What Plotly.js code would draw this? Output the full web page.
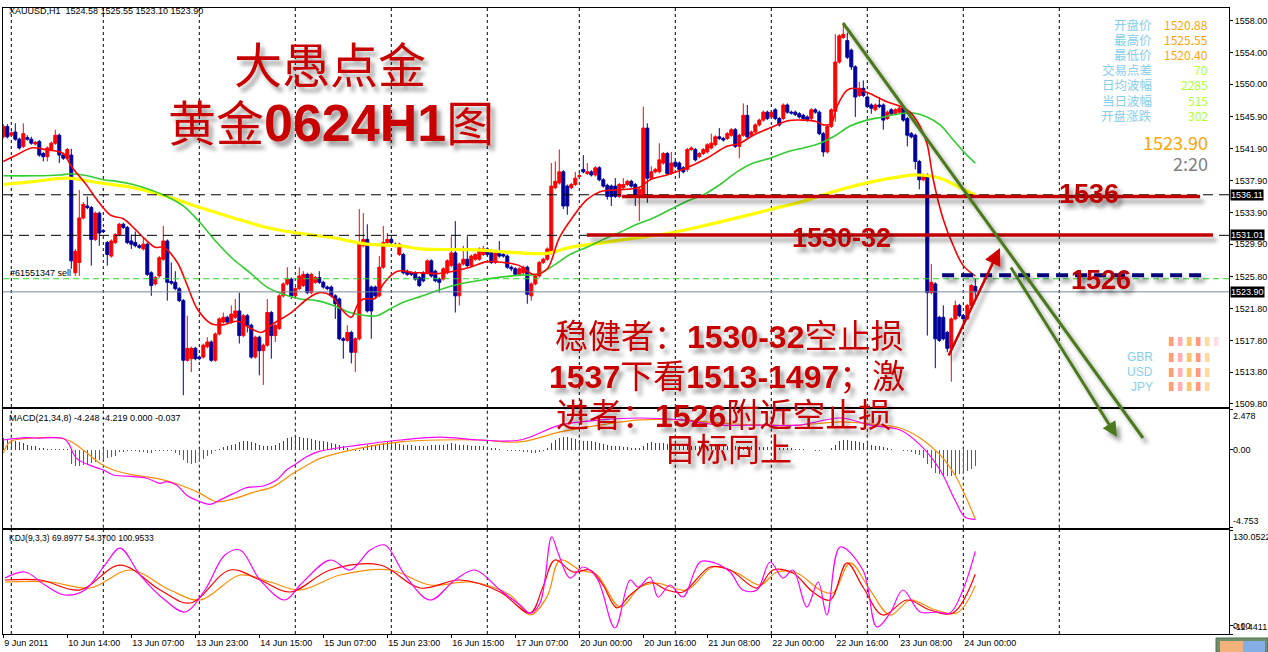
<!DOCTYPE html>
<html><head><meta charset="utf-8">
<script src="https://cdn.plot.ly/plotly-3.0.1.min.js"></script>
<style>html,body{margin:0;padding:0;background:#fff;}#chart{width:1268px;height:652px;}</style>
</head><body>
<svg width="0" height="0" style="position:absolute"><defs>
<filter id="sh" filterUnits="userSpaceOnUse" x="-3000" y="-3000" width="8000" height="8000">
<feGaussianBlur in="SourceAlpha" stdDeviation="2.2"/><feOffset dx="4" dy="5" result="b"/>
<feFlood flood-color="#000" flood-opacity="0.38"/><feComposite in2="b" operator="in"/>
<feMerge><feMergeNode/><feMergeNode in="SourceGraphic"/></feMerge></filter></defs></svg>
<div id="chart"></div>
<script>
// ---------------- DATA ----------------
const open = [
1543.4,1544.7,1543.6,1544.0,1543.1,1542.2,1543.3,1543.1,1542.5,1542.8,
1541.3,1540.9,1541.8,1542.6,1543.6,1541.1,1540.7,1541.1,1526.3,1527.6,
1533.2,1534.7,1534.5,1530.5,1533.8,1531.6,1530.1,1528.4,1530.1,1531.1,
1532.4,1532.0,1530.3,1530.1,1529.7,1529.3,1529.9,1526.3,1524.9,1525.9,
1528.0,1530.3,1525.2,1525.1,1524.3,1522.8,1515.3,1515.5,1516.8,1515.7,
1515.7,1517.0,1517.6,1515.3,1518.6,1520.1,1520.7,1520.1,1520.7,1521.5,
1518.4,1520.9,1519.7,1515.7,1518.2,1516.5,1517.2,1521.3,1518.4,1519.3,
1523.4,1524.9,1525.5,1523.4,1524.3,1524.7,1526.1,1523.8,1525.1,1525.7,
1525.1,1524.5,1524.5,1523.4,1523.0,1518.0,1517.8,1518.8,1516.3,1518.0,
1529.7,1530.5,1524.5,1524.5,1523.4,1527.0,1530.1,1530.5,1529.9,1528.6,
1528.6,1526.5,1526.3,1526.3,1525.7,1526.3,1526.3,1527.8,1526.5,1525.5,
1525.5,1526.3,1527.2,1528.8,1523.4,1527.4,1528.0,1527.2,1528.0,1528.0,
1528.6,1529.3,1529.0,1527.6,1528.8,1528.6,1528.4,1527.0,1526.8,1526.1,
1526.3,1527.0,1523.4,1524.9,1525.9,1527.6,1528.0,1528.8,1537.0,1537.6,
1539.0,1537.2,1537.0,1537.4,1538.4,1539.3,1538.8,1539.0,1538.6,1539.5,
1538.0,1537.3,1537.2,1537.2,1535.9,1537.0,1537.4,1537.8,1537.4,1536.0,
1536.0,1544.5,1538.2,1539.0,1539.0,1540.1,1541.3,1538.8,1540.2,1540.1,
1539.5,1539.3,1541.8,1541.8,1540.9,1541.3,1541.5,1542.0,1542.4,1543.4,
1543.2,1543.2,1543.6,1544.3,1542.2,1543.6,1546.1,1543.6,1544.0,1544.9,
1545.5,1546.5,1545.9,1546.8,1545.7,1545.7,1547.4,1546.5,1546.5,1546.3,
1546.1,1545.9,1545.7,1546.8,1546.5,1543.8,1541.5,1544.7,1546.6,1552.8,
1555.9,1555.5,1554.3,1552.2,1548.6,1549.5,1548.4,1547.4,1546.8,1547.4,
1547.4,1545.7,1546.8,1546.3,1546.5,1547.0,1545.7,1543.8,1543.6,1540.3,
1538.0,1538.6,1523.8,1524.9,1520.7,1520.7,1518.8,1516.8,1520.5,1522.2,
1520.9,1520.5,1522.2,1524.58];
const high = [
1545.0,1545.0,1544.1,1545.1,1543.3,1545.1,1543.6,1543.4,1542.9,1543.0,
1541.5,1542.2,1542.8,1544.3,1543.8,1541.3,1542.0,1541.9,1529.3,1536.7,
1535.2,1535.9,1534.7,1534.0,1534.0,1531.8,1530.3,1530.5,1531.3,1532.6,
1532.6,1532.2,1531.1,1531.5,1529.9,1530.7,1530.1,1526.5,1525.9,1528.4,
1532.2,1530.5,1527.6,1526.5,1524.5,1523.0,1520.9,1517.0,1517.0,1515.9,
1517.4,1518.2,1517.8,1518.8,1520.7,1521.3,1520.9,1522.2,1523.0,1523.8,
1521.1,1521.1,1519.9,1518.4,1518.4,1517.4,1523.0,1521.5,1519.9,1523.6,
1525.1,1527.0,1525.7,1524.5,1527.0,1526.5,1526.3,1526.3,1525.9,1526.5,
1525.3,1524.7,1524.7,1523.6,1523.2,1518.2,1519.7,1519.0,1518.2,1534.3,
1533.8,1532.4,1524.7,1524.7,1528.4,1532.2,1531.3,1530.7,1530.1,1530.1,
1528.8,1526.7,1526.5,1526.5,1525.9,1526.5,1528.0,1528.0,1526.7,1525.7,
1527.0,1528.0,1530.9,1532.8,1527.6,1529.7,1530.9,1528.6,1528.8,1529.5,
1529.7,1529.5,1529.3,1529.0,1530.3,1528.8,1528.6,1527.2,1527.0,1527.0,
1527.2,1527.2,1525.1,1526.1,1527.8,1528.2,1529.5,1540.1,1540.3,1541.8,
1539.2,1537.4,1537.6,1539.0,1538.9,1541.1,1540.1,1539.2,1539.7,1539.7,
1538.2,1537.5,1537.4,1538.2,1537.6,1538.2,1538.0,1538.0,1537.6,1537.0,
1547.2,1545.1,1539.7,1539.5,1542.6,1541.5,1541.5,1541.5,1540.4,1540.3,
1539.7,1542.0,1542.2,1542.0,1541.5,1542.0,1542.6,1543.8,1543.6,1544.5,
1543.4,1544.0,1544.5,1544.5,1543.8,1547.6,1547.4,1544.2,1545.1,1545.7,
1546.7,1546.7,1546.7,1547.0,1545.9,1547.6,1547.6,1546.7,1546.7,1546.5,
1546.3,1546.1,1547.0,1547.0,1546.7,1544.0,1544.9,1547.0,1556.3,1556.3,
1557.6,1556.5,1554.5,1552.4,1550.3,1550.5,1548.6,1547.6,1547.6,1548.4,
1547.6,1546.7,1547.0,1547.0,1547.2,1547.2,1545.9,1544.0,1543.8,1540.5,
1538.8,1538.8,1527.4,1525.1,1520.9,1522.2,1519.0,1520.7,1522.8,1522.4,
1521.1,1522.4,1524.9,1525.55];
const low = [
1543.2,1543.2,1543.4,1542.9,1541.8,1542.0,1542.9,1542.4,1542.3,1540.9,
1540.3,1540.3,1541.6,1542.4,1540.1,1540.5,1540.5,1526.8,1525.9,1525.9,
1533.0,1534.3,1527.2,1530.3,1529.7,1531.3,1527.2,1528.2,1529.9,1530.9,
1531.8,1529.9,1529.3,1529.5,1529.3,1529.1,1525.9,1523.4,1524.7,1525.7,
1527.8,1522.8,1524.8,1524.1,1522.6,1510.9,1515.1,1513.8,1515.3,1515.3,
1515.5,1516.8,1515.1,1515.1,1518.4,1519.9,1519.9,1519.9,1520.5,1517.4,
1518.2,1518.8,1515.5,1515.5,1513.4,1512.2,1517.0,1515.5,1517.6,1519.1,
1523.2,1524.7,1523.0,1523.2,1524.1,1524.5,1523.6,1523.6,1524.9,1524.9,
1524.3,1524.1,1523.2,1520.5,1517.8,1515.5,1517.6,1514.9,1513.8,1517.8,
1529.5,1521.3,1518.0,1523.2,1523.2,1526.8,1529.9,1529.9,1529.5,1528.4,
1526.1,1525.9,1525.9,1525.3,1524.5,1525.1,1526.1,1525.7,1525.1,1523.8,
1525.3,1526.1,1527.0,1521.3,1522.2,1527.2,1527.0,1527.0,1527.8,1527.8,
1528.4,1528.4,1527.4,1527.4,1528.2,1528.2,1526.8,1526.5,1525.9,1525.9,
1526.1,1522.4,1522.8,1524.7,1525.7,1527.4,1527.8,1528.6,1536.8,1537.4,
1534.3,1533.6,1536.8,1537.2,1538.2,1538.8,1538.6,1538.4,1538.4,1537.8,
1537.0,1535.5,1534.7,1535.7,1535.7,1536.8,1537.2,1537.0,1534.7,1532.8,
1535.8,1535.1,1538.0,1538.8,1538.8,1539.9,1538.6,1538.6,1539.5,1538.2,
1538.8,1539.0,1541.6,1540.3,1540.7,1541.1,1541.3,1541.8,1542.2,1543.0,
1542.8,1543.0,1543.4,1542.0,1540.7,1543.4,1543.2,1543.4,1543.8,1544.7,
1545.3,1545.5,1545.7,1545.5,1544.7,1545.5,1546.3,1546.2,1546.0,1545.7,
1545.5,1545.3,1545.5,1546.3,1543.6,1540.9,1541.3,1544.5,1545.3,1552.6,
1555.7,1553.2,1551.8,1545.9,1548.4,1548.4,1547.0,1546.3,1546.6,1547.0,
1544.3,1545.5,1546.1,1546.1,1546.3,1545.3,1542.2,1543.2,1539.3,1536.8,
1537.8,1518.4,1523.6,1514.3,1517.6,1517.8,1516.3,1512.6,1520.3,1520.7,
1520.4,1520.4,1522.0,1523.10];
const close = [
1544.7,1543.4,1543.9,1543.1,1542.0,1543.8,1543.1,1542.6,1542.7,1541.1,
1540.9,1542.0,1542.6,1543.6,1541.1,1540.7,1541.8,1527.8,1529.0,1533.2,
1534.9,1534.5,1530.5,1533.8,1531.3,1531.5,1528.6,1530.3,1531.1,1532.4,
1532.0,1530.1,1529.9,1529.7,1529.5,1529.9,1526.1,1524.7,1525.7,1528.2,
1530.3,1525.1,1525.0,1524.3,1522.8,1515.3,1516.8,1516.8,1515.5,1515.5,
1517.2,1517.6,1515.3,1518.6,1520.5,1520.7,1520.1,1521.1,1521.5,1518.4,
1520.9,1519.7,1515.7,1518.2,1516.5,1517.2,1521.3,1518.4,1519.7,1523.4,
1524.9,1525.5,1523.4,1524.3,1525.9,1526.1,1523.8,1526.1,1525.7,1525.1,
1524.5,1524.3,1523.4,1522.4,1518.0,1517.8,1518.8,1516.3,1518.0,1530.1,
1530.5,1521.5,1521.5,1523.4,1527.0,1530.1,1530.5,1530.1,1529.7,1529.9,
1526.3,1526.1,1526.1,1525.5,1524.7,1525.3,1527.8,1525.9,1525.3,1525.1,
1526.8,1527.8,1528.8,1523.4,1527.4,1528.0,1527.2,1528.4,1528.6,1529.3,
1529.3,1528.6,1527.6,1528.8,1528.4,1528.4,1527.0,1526.8,1526.1,1526.8,
1527.0,1523.6,1524.9,1525.9,1527.6,1528.0,1529.3,1537.2,1537.8,1539.0,
1534.7,1534.7,1537.4,1538.2,1538.5,1539.0,1539.0,1538.6,1539.5,1538.0,
1537.2,1535.9,1535.9,1535.9,1537.4,1537.4,1537.8,1537.2,1536.1,1536.8,
1544.5,1538.2,1539.0,1539.3,1540.5,1541.3,1538.8,1540.1,1539.7,1539.3,
1539.0,1541.8,1542.0,1540.5,1541.3,1541.8,1542.4,1542.6,1543.4,1543.2,
1543.0,1543.8,1544.3,1542.2,1543.6,1546.1,1543.4,1544.0,1544.9,1545.5,
1546.5,1545.7,1546.5,1545.7,1544.9,1547.4,1546.5,1546.4,1546.2,1545.9,
1545.7,1545.5,1546.8,1546.5,1543.8,1541.5,1544.7,1546.8,1552.8,1556.1,
1556.3,1553.4,1552.2,1548.4,1549.5,1548.6,1547.2,1547.0,1547.4,1547.2,
1545.5,1546.5,1546.3,1546.8,1547.0,1545.5,1543.6,1543.4,1540.3,1538.0,
1538.6,1523.8,1525.1,1518.0,1517.8,1518.0,1516.8,1520.5,1522.2,1520.9,
1520.5,1522.2,1524.7,1523.90];

// moving averages (bar index, price)
const maRedX = [0,4,7,11,15,17,21,24,27,30,33,35.5,38,40,43.5,46,48.5,52,55,58.5,62,64.5,67.5,72,76,79,82,84.5,87,88.5,90,93,95,98.5,102.5,104,108,112.5,116.7,121,125,129,132.5,135.9,139,142.5,145.9,149.2,152.5,155.9,159.2,161.7,165.9,170.9,175.9,180.9,184.2,187.5,192.5,195.9,200,203.4,205,207,208.4,210.9,212.5,215.9,220.9,224.2,226.7,229.2,230.9,232.5,235,237.5,240,243];
const maRedY = [1540.3,1541.3,1542.0,1541.75,1541.3,1539.7,1537.2,1535.1,1533.5,1533.1,1531.75,1530.5,1529.5,1529.5,1527.6,1524.7,1521.75,1519.9,1519.75,1520.2,1519.25,1518.8,1519.9,1521.3,1523,1523.8,1523.4,1521.75,1520.7,1522.2,1523,1523.1,1524.9,1526.5,1526.3,1526.3,1526.2,1526.5,1527,1527.7,1527.6,1527.2,1526.1,1526.75,1530.7,1533.4,1535.5,1536.5,1536.7,1536.8,1537.1,1538,1538.6,1539.5,1540.7,1542.2,1542.6,1543.6,1544.7,1545.4,1545.5,1545.3,1544.9,1545.1,1547.2,1549.25,1549.5,1549.0,1547.8,1547.25,1546.5,1544.7,1542.6,1538,1533,1529.7,1527.2,1525.9];
const maGreenX = [0,8,14,17,21,25,28.4,32.5,36.7,40.9,45,49.2,53.4,57.5,61.7,65.9,70,74.2,78.4,82.5,86.7,90.9,93.4,96.7,100,104.2,112.5,120.9,129.2,133.4,137.5,141.7,145.9,150,154.2,158.4,162.5,166.7,170.9,175,179.2,183.4,187.5,191.7,195.9,200,204.2,207.5,211.7,215.9,220,224.2,227.5,230.9,234.2,237.5,240.9,243];
const maGreenY = [1538.5,1538.5,1538.6,1538.75,1538.5,1538,1537.8,1537.4,1536.75,1535.9,1534.7,1532.6,1530.1,1528,1526.3,1524.5,1523.6,1523,1522.8,1522.2,1521.3,1520.9,1520.9,1521.75,1522.6,1523.3,1524.7,1525.5,1526,1526.1,1527.2,1528.6,1529.5,1530.5,1531.4,1532.4,1533.2,1534.25,1535.3,1536.1,1537.4,1539.0,1540.1,1540.7,1541.5,1542,1542.6,1543.4,1544.75,1545.5,1545.9,1546.3,1546.4,1545.9,1544.9,1543,1541.1,1540.1];
const maYellowX = [0,8,15.9,24.2,32.5,40.9,49.2,57.5,65.9,74.2,82.5,90.9,99.2,104.2,116.7,129.2,135.9,141.7,150,158.4,166.7,175,183.4,191.7,200,207.5,215.9,224.2,228.4,234.2,239.2,243];
const maYellowY = [1537.4,1537.8,1538.2,1537.6,1537,1535.9,1534.5,1533.2,1532,1531.25,1530.7,1529.9,1529.7,1529.3,1529.2,1528.8,1528.75,1529.5,1530.1,1530.7,1531.3,1532.2,1533.2,1534.25,1535.3,1536.5,1537.6,1538.4,1538.6,1538.2,1537,1536.1];

// MACD(21,34,8)
const macdHist = [
0.7,0.65,0.6,0.55,0.45,0.4,0.3,0.25,0.2,0.12,0.08,
0.03,0.03,0.02,0.02,0.02,0.02,
-0.9,-1.0,-1.0,-0.95,-0.9,-0.8,-0.75,-0.65,-0.6,-0.5,-0.45,-0.4,
-0.15,-0.12,-0.1,-0.1,-0.1,-0.12,-0.15,-0.2,-0.2,
-0.1,-0.1,-0.1,-0.05,-0.1,-0.2,-0.3,
-0.6,-0.8,-0.85,-0.8,-0.7,-0.55,-0.4,-0.25,-0.1,
0.05,0.15,0.25,0.3,0.35,0.45,0.5,0.5,0.45,0.4,0.3,0.25,0.2,0.25,0.3,0.4,0.55,0.7,0.8,0.8,0.75,0.7,0.7,0.65,0.6,0.55,
0.5,0.45,0.4,0.35,0.3,0.2,0.1,0.0,-0.1,-0.1,0.1,0.3,0.3,0.3,0.35,0.4,0.45,0.45,0.4,0.35,0.3,
0.3,0.3,0.25,0.2,0.2,0.25,0.3,0.3,0.3,0.3,0.35,0.4,0.35,0.3,0.3,0.3,0.25,0.25,0.2,0.2,0.15,0.1,0.1,0.05,0.0,-0.05,-0.05,-0.1,-0.1,-0.15,
-0.15,-0.2,-0.2,-0.15,-0.1,0.1,0.4,0.6,0.7,0.75,0.75,0.7,0.65,0.6,0.55,0.5,0.5,0.45,0.4,0.35,0.3,0.25,0.2,0.2,0.15,0.15,0.1,0.1,0.1,0.2,
0.4,0.45,0.4,0.4,0.4,0.35,0.3,0.3,0.25,0.25,0.2,0.2,0.2,0.2,0.2,0.2,0.2,0.25,0.25,0.25,0.2,0.2,0.2,0.2,0.15,0.2,0.2,0.2,0.15,0.15,
0.15,0.15,0.1,0.1,0.1,0.1,0.1,0.05,0.05,0.05,0.0,0.0,-0.05,-0.05,0.0,0.0,0.1,0.3,0.5,0.6,0.6,0.55,0.5,0.45,0.4,0.35,0.3,0.25,0.2,0.15,
0.1,0.05,0.0,0.0,-0.05,-0.1,-0.15,-0.25,-0.35,-0.5,-0.9,-1.1,-1.4,-1.5,-1.6,-1.6,-1.6,-1.55,-1.5,-1.4,-1.3,-1.15,-1.0];
const macdMainX = [0,5.8,8.3,15,16.3,18.3,22.5,25,27.5,32.5,35.8,39.2,40.8,43.3,45.8,49.2,51.7,54.2,57.6,60.8,65,68.3,70.8,73.3,75.8,78.8,89.2,99.2,109.2,119.2,129.2,139.2,149.2,159.2,169.2,179.2,189.2,199.2,209.2,216.7,224.2,229.2,234.2,237.9,240.4,243];
const macdMainY = [0.59,0.73,0.71,0.68,0.39,-0.53,-1.03,-1.24,-1.54,-1.64,-1.74,-2.05,-1.95,-2.15,-2.76,-3.17,-3.33,-3.06,-2.66,-2.31,-2.21,-1.85,-1.24,-0.84,-0.43,-0.12,0.29,0.59,0.77,0.59,0.59,1.5,1.81,1.93,1.81,1.5,1.5,1.5,1.93,1.5,1.2,0.29,-1.24,-3.06,-4.1,-4.248];
const macdSigX = [0,1.7,7.5,14.2,16.7,20,24.2,27.5,32.5,39.2,44.2,49.2,53.3,57.5,62.5,67.5,72.5,76.7,79.2,89.2,99.2,109.2,119.2,129.2,139.2,149.2,159.2,169.2,179.2,189.2,199.2,209.2,216.7,224.2,229.2,234.2,237.9,240.4,243];
const macdSigY = [-0.22,0.49,0.71,0.71,0.53,-0.02,-0.84,-1.24,-1.54,-1.79,-2.15,-2.66,-3.17,-3.0,-2.6,-2.25,-1.44,-0.84,-0.53,0.1,0.47,0.59,0.59,0.47,1.08,1.5,1.81,1.81,1.63,1.5,1.5,1.69,1.57,1.32,0.71,-0.32,-1.54,-2.76,-4.219];

// KDJ(9,3,3)
const kdjJX = [0.4,5.4,10.4,15.4,20.4,25.4,29.2,34.2,40.4,45.4,50.4,55.4,59.2,64.2,70.4,74.2,81.7,86.7,91.7,95.4,100.4,106.7,112.9,117.9,124.2,129.2,131.7,134.2,137.1,138.7,141.7,144.9,148.4,152.9,156.7,158.7,161.7,163.7,166.7,169.9,174.2,177.9,181.7,184.9,188.4,191.7,194.9,197.4,200.9,203.7,205.9,209.2,214.9,218.4,221.7,224.9,229.2,233.4,236.7,239.9,243];
const kdjJY = [64.7,72.9,55.2,41.6,48.4,82.4,105.5,68.8,34.8,18.5,48.4,96,102.8,62,34.8,55.2,89.2,75.6,102.8,109.6,68.8,34.8,62,75.6,48.4,28,16.7,30.7,120.9,98.8,64.7,79.7,64.7,-3.3,62,52.5,66.1,38.9,55.2,38.9,86.5,85.2,72.9,48.4,48.4,86.5,64.7,75.6,25.3,59.3,14.4,106.9,75.6,-1.9,17.1,48.4,18.5,18.5,17.1,48.4,100.95];
const kdjKX = [0.4,9.2,19.2,29.2,39.2,46.7,56.7,64.2,71.7,81.7,94.2,104.2,114.2,124.2,131.7,134.9,137.9,142.4,146.7,149.9,153.4,156.7,161.7,165.9,169.9,176.7,181.7,188.4,192.4,197.4,202.4,206.7,210.9,214.9,219.9,225.9,231.7,237.4,243];
const kdjKY = [62,62,48.4,82.4,48.4,30.7,75.6,62,45.7,75.6,82.4,51.1,62,45.7,17.1,52.5,89.2,72.9,75.6,55.2,24,41.6,59.3,48.4,45.7,79.7,75.6,51.1,75.6,71.5,45.7,34.8,85.2,52.5,14.4,34.8,21.2,17.1,69.9];
const kdjDX = [0.4,11.7,21.7,31.7,41.7,49.2,59.2,66.7,74.2,84.2,96.7,106.7,116.7,126.7,131.7,135.9,139.2,144.2,148.4,154.2,159.2,163.4,170.9,177.4,183.4,189.2,193.4,198.4,204.2,207.4,211.7,216.7,221.7,226.7,232.4,238.4,243];
const kdjDY = [59.3,59.3,51.1,75.6,48.4,34.8,68.8,59.3,48.4,68.8,75.6,55.2,59.3,41.6,14.4,38.9,89.2,75.6,68.8,25.3,52.5,57.9,48.4,79.7,71.5,55.2,72.9,71.5,48.4,44.3,85.2,48.4,14.4,34.8,22.6,17.1,54.37];

// axes labels
const priceTicks = [1558.00,1554.00,1550.00,1545.90,1541.90,1537.90,1533.90,1529.90,1525.80,1521.80,1517.80,1513.80,1509.80];
const timeTickIdx = [0,16,32,48,64,80,96,112,128,144,160,176,192,208,224,240];
const timeTickText = ["9 Jun 2011","10 Jun 14:00","13 Jun 07:00","13 Jun 23:00","14 Jun 15:00","15 Jun 07:00","15 Jun 23:00","16 Jun 15:00","17 Jun 07:00","20 Jun 00:00","20 Jun 16:00","21 Jun 08:00","22 Jun 00:00","22 Jun 16:00","23 Jun 08:00","24 Jun 00:00"];
const daySepIdx = [2,25,49,73,97,121,144,168,192,216,240,264];
const levelLines = {bid:1523.90, order:1525.55, dashA:1536.11, dashB:1531.01};
const infoLabels = ['开盘价','最高价','最低价','交易点差','日均波幅','当日波幅','开盘涨跌'];
const infoValues = ['1520.88','1525.55','1520.40','70','2285','515','302'];

// ---------------- CHART ----------------
const L=3, R=1229, T=8, B=634, W=R-L, H=B-T;
const px = x => (x-L)/W, py = y => (B-y)/H;
const barIdx = open.map((_,k)=>k);
const FONT = 'Liberation Sans, Arial, sans-serif';
const CJK = 'Noto Sans CJK SC, sans-serif';
const RED = '#c80000';

const traces = [
 {type:'candlestick', x:barIdx, open:open, high:high, low:low, close:close, xaxis:'x', yaxis:'y',
  increasing:{line:{color:'#ff0000',width:1}, fillcolor:'#ff0000'},
  decreasing:{line:{color:'#000099',width:1}, fillcolor:'#000099'}, whiskerwidth:0, hoverinfo:'skip'},
 {type:'scatter', mode:'lines', x:maYellowX, y:maYellowY, line:{color:'#ffff00',width:3.2,shape:'spline'}, xaxis:'x', yaxis:'y'},
 {type:'scatter', mode:'lines', x:maGreenX, y:maGreenY, line:{color:'#33cc33',width:1.6,shape:'spline'}, xaxis:'x', yaxis:'y'},
 {type:'scatter', mode:'lines', x:maRedX, y:maRedY, line:{color:'#ff0000',width:1.6,shape:'spline'}, xaxis:'x', yaxis:'y'},
 {type:'bar', x:barIdx, y:macdHist, width:0.28, marker:{color:macdHist.map(v=>v>=0?'#e00000':'#1a8a1a'), line:{width:0}}, xaxis:'x2', yaxis:'y2'},
 {type:'scatter', mode:'lines', x:macdSigX, y:macdSigY, line:{color:'#ff8c00',width:1.2,shape:'spline'}, xaxis:'x2', yaxis:'y2'},
 {type:'scatter', mode:'lines', x:macdMainX, y:macdMainY, line:{color:'#ff00ff',width:1.2,shape:'spline'}, xaxis:'x2', yaxis:'y2'},
 {type:'scatter', mode:'lines', x:kdjDX, y:kdjDY, line:{color:'#ff8c00',width:1.2,shape:'spline'}, xaxis:'x3', yaxis:'y3'},
 {type:'scatter', mode:'lines', x:kdjKX, y:kdjKY, line:{color:'#ff0000',width:1.2,shape:'spline'}, xaxis:'x3', yaxis:'y3'},
 {type:'scatter', mode:'lines', x:kdjJX, y:kdjJY, line:{color:'#ff00ff',width:1.2,shape:'spline'}, xaxis:'x3', yaxis:'y3'}
];

const frameAxis = {showline:true, mirror:true, linecolor:'#000', linewidth:1, showgrid:false, zeroline:false, fixedrange:true};
const shapes = [];
['y','y2','y3'].forEach((ya,k)=>{
  daySepIdx.forEach(d=>shapes.push({type:'line', layer:'below', xref:['x','x2','x3'][k], yref:ya+' domain', x0:d, x1:d, y0:0, y1:1, line:{color:'#000',width:1,dash:'3px,3px'}}));
});
shapes.push({type:'line', xref:'x domain', yref:'y', x0:0, x1:1, y0:levelLines.dashA, y1:levelLines.dashA, line:{color:'#000',width:1,dash:'10px,6px'}});
shapes.push({type:'line', xref:'x domain', yref:'y', x0:0, x1:1, y0:levelLines.dashB, y1:levelLines.dashB, line:{color:'#000',width:1,dash:'10px,6px'}});
shapes.push({type:'line', xref:'x domain', yref:'y', x0:0, x1:1, y0:levelLines.order, y1:levelLines.order, line:{color:'#22dd22',width:1,dash:'6px,4px'}});
shapes.push({type:'line', xref:'x domain', yref:'y', x0:0, x1:1, y0:levelLines.bid, y1:levelLines.bid, line:{color:'#778899',width:1}});
shapes.push({name:'sh', type:'line', xref:'x', yref:'y', x0:154.7, x1:299.2, y0:1535.9, y1:1535.9, line:{color:'#c00000',width:3.5}});
shapes.push({name:'sh', type:'line', xref:'x', yref:'y', x0:145.9, x1:302.4, y0:1531.05, y1:1531.05, line:{color:'#c00000',width:3.5}});
shapes.push({name:'sh', type:'line', xref:'x', yref:'y', x0:234.7, x1:300.4, y0:1526.0, y1:1526.0, line:{color:'#00007a',width:4,dash:'12px,7px'}});
shapes.push({name:'sh', type:'line', xref:'paper', yref:'paper', x0:px(843), y0:py(23), x1:px(1143), y1:py(438), line:{color:'#4c7a1c',width:3}});
shapes.push({type:'rect', xref:'paper', yref:'paper', x0:px(1216), x1:px(1268), y0:py(652), y1:py(638), fillcolor:'#6f8f6f', line:{color:'#4f6f4f',width:1}});
shapes.push({type:'rect', xref:'paper', yref:'paper', x0:px(1220), x1:px(1243), y0:py(652), y1:py(641), fillcolor:'#f2b27a', line:{width:0}});
shapes.push({type:'rect', xref:'paper', yref:'paper', x0:px(1243), x1:px(1265), y0:py(652), y1:py(641), fillcolor:'#86aee6', line:{width:0}});

const ann = [];
function T_(text, x, y, size, color, o={}) {
  ann.push(Object.assign({text:text, xref:'paper', yref:'paper', x:px(x), y:py(y), showarrow:false,
    xanchor:'center', yanchor:'middle', font:{family:CJK, size:size, color:color}}, o));
}
const B_ = (s,sz)=>'<span style="font-family:Liberation Sans,Arial;font-weight:bold;font-size:'+sz+'px">'+s+'</span>';
T_('XAUUSD,H1\u00a0\u00a01524.58 1525.55 1523.10 1523.90', 7, 11, 9, '#000', {xanchor:'left', font:{family:FONT,size:9,color:'#000'}});
T_('MACD(21,34,8) -4.248 -4.219 0.000 -0.037', 7, 418, 9, '#000', {xanchor:'left', font:{family:FONT,size:9,color:'#000'}});
T_('KDJ(9,3,3) 69.8977 54.3700 100.9533', 7, 538, 9, '#000', {xanchor:'left', font:{family:FONT,size:8.5,color:'#000'}});
T_('#61551347 sell', 8, 273, 9, '#000', {xanchor:'left', font:{family:FONT,size:9,color:'#000'}});
T_('大愚点金', 330, 62, 48, RED, {name:'sh'});
T_('黄金'+B_('0624H1',52)+'图', 331, 120, 48, RED, {name:'sh'});
T_('稳健者：'+B_('1530-32',32)+'空止损', 729, 334, 33, RED, {name:'sh'});
T_(B_('1537',32)+'下看'+B_('1513-1497',32)+'；激', 727, 374, 33, RED, {name:'sh'});
T_('进者：'+B_('1526',32)+'附近空止损', 723, 413, 33, RED, {name:'sh'});
T_('目标同上', 728, 447, 32, RED, {name:'sh'});
T_(B_('1536',27), 1089, 194, 27, '#c00000', {name:'sh'});
T_(B_('1530-32',27), 842, 238, 27, '#c00000', {name:'sh'});
T_(B_('1526',27), 1101, 280, 27, '#c00000', {name:'sh'});
const infoY = [24,39,54.5,70,85,100,115.5];
infoLabels.forEach((s,k)=>T_(s, 1154, infoY[k], 12.5, '#87ceeb', {xanchor:'right'}));
infoValues.forEach((s,k)=>T_(s, 1210, infoY[k], 12, k<3?'#ffa500':'#adff2f', {xanchor:'right'}));
T_('1523.90', 1210, 142, 18, '#ffa500', {xanchor:'right'});
T_('2:20', 1210, 163, 18, '#808080', {xanchor:'right'});
const bars = '<span style="color:#ff9a7a">▌</span><span style="color:#ffb0b0">▌</span><span style="color:#ffc36e">▌</span><span style="color:#ff9a7a">▌</span><span style="color:#ffd9a0">▌</span>';
T_(bars+'<span style="color:#ffe0e0">▌</span>', 1167, 342, 9, '#f99', {xanchor:'left'});
[['GBR',357],['USD',372],['JPY',387]].forEach(([s,y])=>{
  T_(s, 1155, y, 12, '#87ceeb', {xanchor:'right', font:{family:FONT,size:12,color:'#87ceeb'}});
  T_(bars, 1167, y, 9, '#f99', {xanchor:'left'});
});
ann.push({name:'sh', xref:'paper', yref:'paper', x:px(1000), y:py(248), ax:-52, ay:109, text:'', showarrow:true, arrowhead:2, arrowsize:1.3, arrowwidth:2.6, arrowcolor:'#d00000'});
ann.push({name:'sh', xref:'paper', yref:'paper', x:px(1117), y:py(437), ax:-107, ay:-171, text:'', showarrow:true, arrowhead:2, arrowsize:1, arrowwidth:3, arrowcolor:'#4c7a1c'});
[[levelLines.dashA,'1536.11'],[levelLines.dashB,'1531.01'],[levelLines.bid,'1523.90']].forEach(([v,s])=>{
  ann.push({text:s, xref:'paper', yref:'y', x:1, y:v, xanchor:'left', yanchor:'middle', xshift:1, showarrow:false,
    bgcolor:'#000', borderpad:0, font:{family:FONT,size:9,color:'#fff'}});
});
function axLab(text, yref, y, yanchor){
  ann.push({text:text, xref:'paper', yref:yref, x:1, y:y, xanchor:'left', yanchor:yanchor, xshift:2, showarrow:false, font:{family:FONT,size:9,color:'#000'}});
}
axLab('2.478','y2 domain',1,'top'); axLab('0.00','y2',0,'middle'); axLab('-4.753','y2 domain',0,'bottom');
axLab('130.0522','y3 domain',1,'top'); axLab('0.00','y3',0,'middle'); axLab('-11.4411','y3 domain',0,'bottom');

const layout = {
  width:1268, height:652, margin:{l:L, r:1268-R, t:T, b:652-B}, paper_bgcolor:'#fff', plot_bgcolor:'#fff',
  showlegend:false, hovermode:false, dragmode:false, boxgap:0.25, boxgroupgap:0, bargap:0,
  xaxis: Object.assign({}, frameAxis, {anchor:'y', domain:[0,1], range:[-0.075,306.425], type:'linear', showticklabels:false, ticks:'', rangeslider:{visible:false}}),
  xaxis2: Object.assign({}, frameAxis, {anchor:'y2', matches:'x', domain:[0,1], showticklabels:false, ticks:''}),
  xaxis3: Object.assign({}, frameAxis, {anchor:'y3', matches:'x', domain:[0,1], tickmode:'array', tickvals:timeTickIdx, ticktext:timeTickText,
      ticks:'outside', ticklen:3, tickcolor:'#000', ticklabelposition:'outside right', tickfont:{family:FONT,size:9,color:'#000'}}),
  yaxis: Object.assign({}, frameAxis, {anchor:'x', domain:[(B-407)/H,1], side:'right', range:[1509.42,1559.6], tickmode:'array',
      tickvals:priceTicks, ticktext:priceTicks.map(v=>v.toFixed(2)), ticks:'outside', ticklen:3, tickcolor:'#000', tickfont:{family:FONT,size:9,color:'#000'}}),
  yaxis2: Object.assign({}, frameAxis, {anchor:'x2', domain:[(B-527.7)/H,(B-409)/H], side:'right', range:[-4.753,2.478], tickmode:'array',
      tickvals:[2.478,0,-4.753], showticklabels:false, ticks:'outside', ticklen:3, tickcolor:'#000'}),
  yaxis3: Object.assign({}, frameAxis, {anchor:'x3', domain:[0,(B-530)/H], side:'right', range:[-11.4411,130.0522], tickmode:'array',
      tickvals:[130.0522,0,-11.4411], showticklabels:false, ticks:'outside', ticklen:3, tickcolor:'#000'}),
  shapes:shapes, annotations:ann
};

Plotly.newPlot('chart', traces, layout, {staticPlot:true, displayModeBar:false}).then(gd=>{
  layout.shapes.forEach((s,k)=>{ if(s.name==='sh'){ gd.querySelectorAll('.shapelayer path[data-index="'+k+'"]').forEach(el=>el.setAttribute('filter','url(#sh)')); }});
  layout.annotations.forEach((a,k)=>{ if(a.name==='sh'){ gd.querySelectorAll('g.annotation[data-index="'+k+'"]').forEach(el=>el.setAttribute('filter','url(#sh)')); }});
});
</script>
</body></html>
